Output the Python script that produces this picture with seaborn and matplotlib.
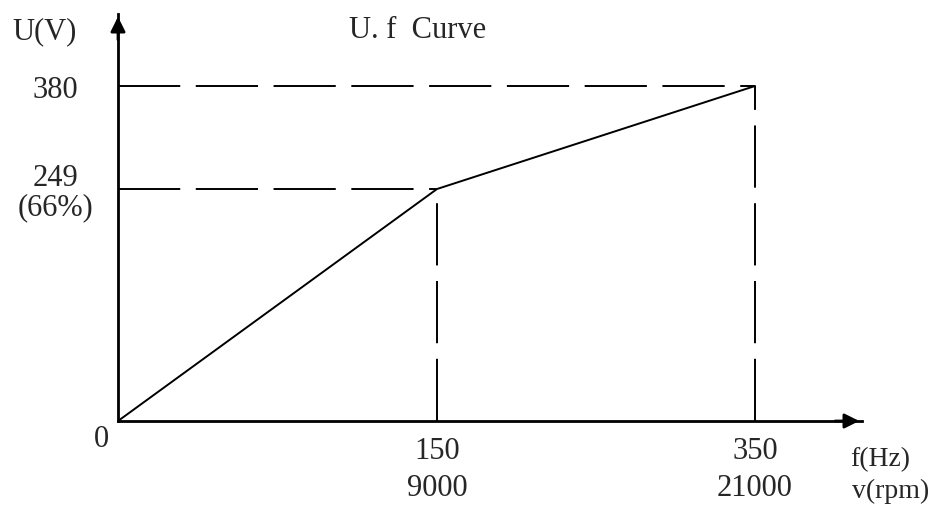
import numpy as np
import pandas as pd
import seaborn as sns
import matplotlib
matplotlib.use("Agg")
import matplotlib.pyplot as plt

# V/f curve points
freq_hz = [0, 150, 350]
volt = [0, 249, 380]
speed_rpm = [0, 9000, 21000]
volt_labels = ["249\n(66%)", "380"]

# schematic (non-linear) scale, as drawn in the original
x_knots = [0, 150, 350, 500]
x_pix = [0, 319, 637, 875.5]
y_knots = [0, 249, 380, 600]
y_pix = [0, 232, 335, 508]

def fx(v):
    return np.interp(v, x_knots, x_pix)

def fx_inv(p):
    return np.interp(p, x_pix, x_knots)

def fy(v):
    return np.interp(v, y_knots, y_pix)

def fy_inv(p):
    return np.interp(p, y_pix, y_knots)

sns.set_style("white")
plt.rcParams['font.family'] = ['Liberation Serif', 'DejaVu Serif']

fig = plt.figure(figsize=(9.41, 5.06), dpi=100)
ax = fig.add_axes([118 / 941, 84 / 506, 744 / 941, 407 / 506])
ax.set_xscale('function', functions=(fx, fx_inv))
ax.set_yscale('function', functions=(fy, fy_inv))
ax.set_xlim(0, fx_inv(744))
ax.set_ylim(0, fy_inv(407))

df = pd.DataFrame({"f": freq_hz, "U": volt})
sns.lineplot(data=df, x="f", y="U", ax=ax, color="black", lw=1.4)

# guide lines to the knee and the end point
dash = (0, (32, 8))
for f, u in zip(freq_hz[1:], volt[1:]):
    ax.hlines(u, 0, f, colors="black", lw=1.4, linestyles=dash)
    ax.vlines(f, 0, u, colors="black", lw=1.4, linestyles=dash)

for s in ["top", "right"]:
    ax.spines[s].set_visible(False)
for s in ["left", "bottom"]:
    ax.spines[s].set_linewidth(2)
    ax.spines[s].set_color("black")

# arrow heads
ax.annotate('', xy=(1.0, 0), xytext=(0.96, 0), xycoords='axes fraction',
            arrowprops=dict(arrowstyle='-|>', color='black', lw=2, mutation_scale=22), annotation_clip=False)
ax.annotate('', xy=(0, 1.0), xytext=(0, 0.93), xycoords='axes fraction',
            arrowprops=dict(arrowstyle='-|>', color='black', lw=2, mutation_scale=22), annotation_clip=False)

ax.set_xticks(freq_hz[1:])
ax.set_xticklabels([f"{f}\n{r}" for f, r in zip(freq_hz[1:], speed_rpm[1:])], fontsize=22, linespacing=1.35)
ax.set_yticks(volt[1:])
ax.set_yticklabels(volt_labels, fontsize=22, linespacing=1.0, ha="center")
ax.tick_params(axis="x", length=0, pad=11)
ax.tick_params(axis="y", length=0, pad=45)
ax.set_xlabel("")
ax.set_ylabel("")

fig.text(101 / 941, 1 - 440 / 506, "0", fontsize=22, ha="center", va="center")
fig.text(45 / 941, 1 - 32 / 506, "U(V)", fontsize=22, ha="center", va="center")
fig.text(418 / 941, 1 - 30 / 506, "U. f  Curve", fontsize=22, ha="center", va="center")
fig.text(880 / 941, 1 - 460 / 506, "f(Hz)", fontsize=20, ha="center", va="center")
fig.text(891 / 941, 1 - 491 / 506, "v(rpm)", fontsize=20, ha="center", va="center")

fig.savefig("out.png", dpi=100)
